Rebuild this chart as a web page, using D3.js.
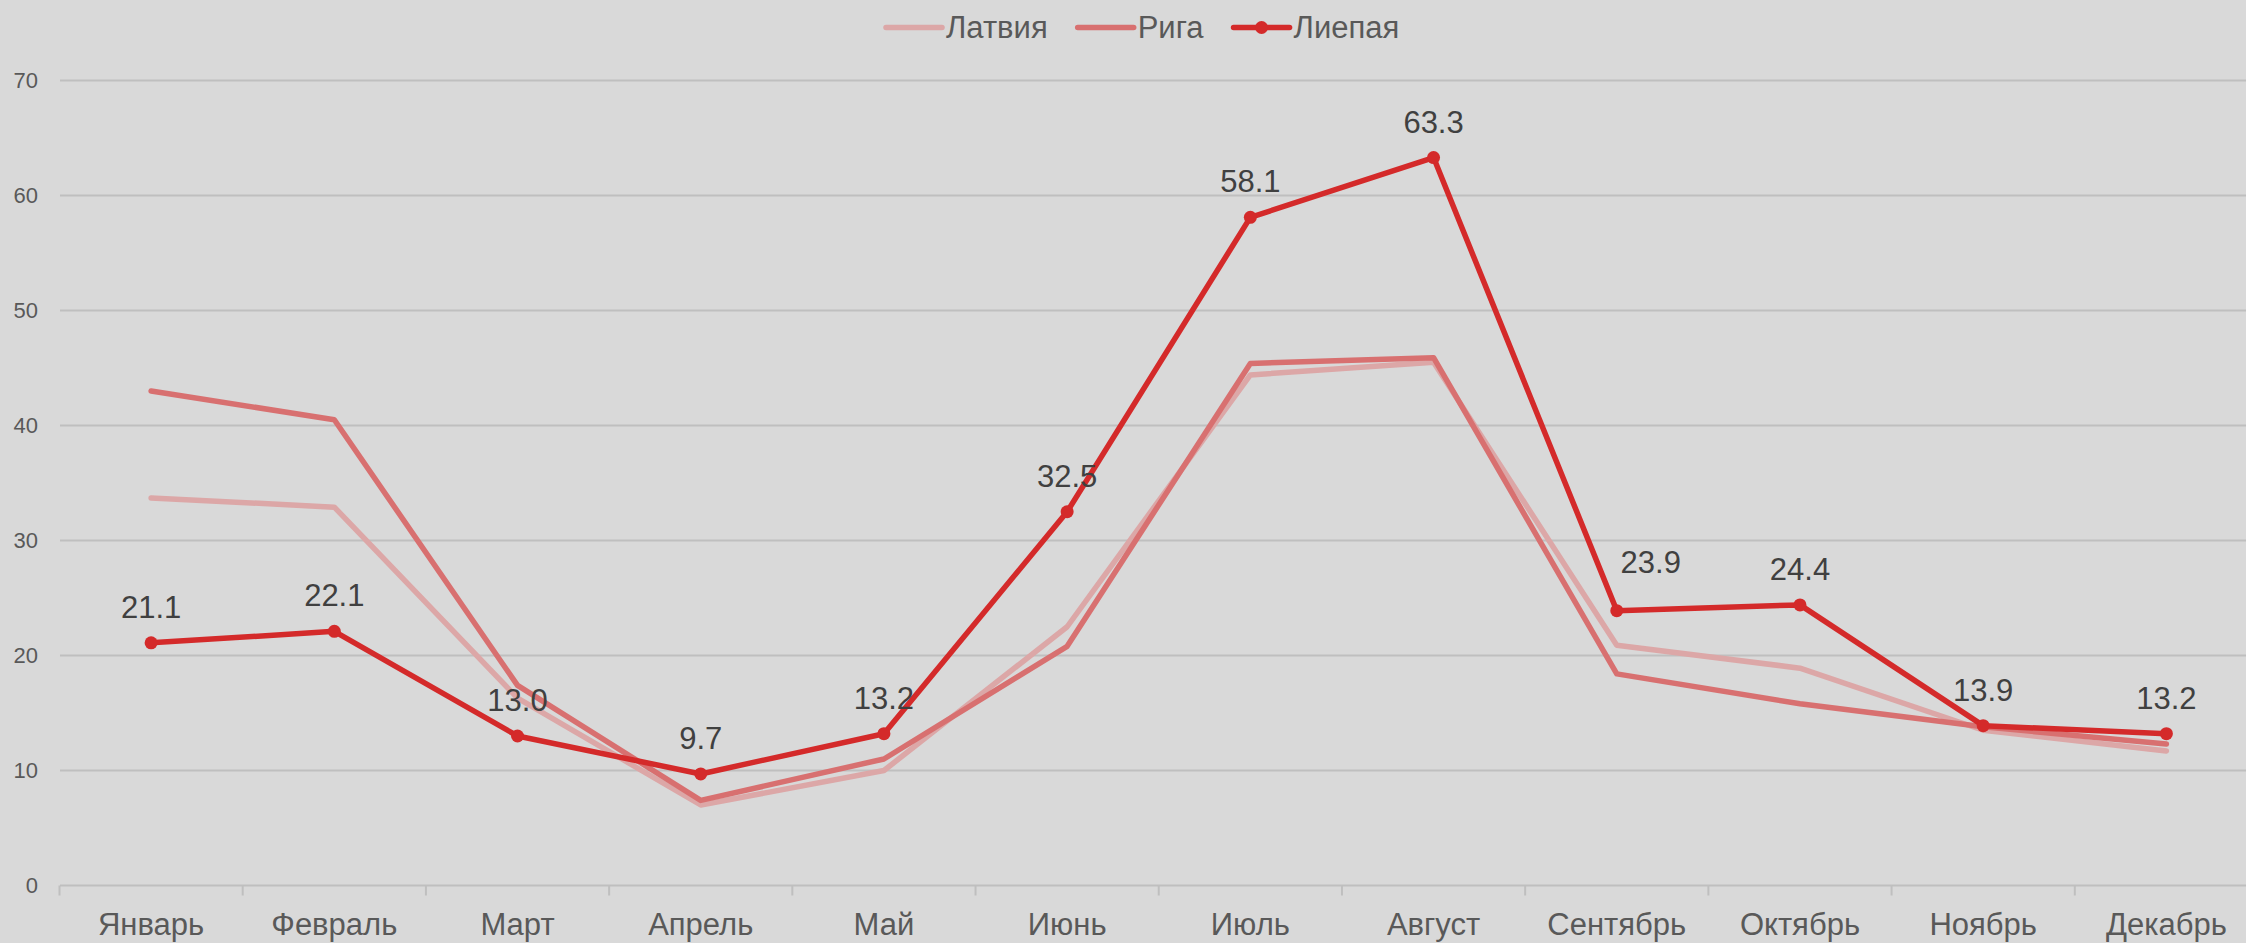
<!DOCTYPE html>
<html>
<head>
<meta charset="utf-8">
<script src="https://cdn.jsdelivr.net/npm/d3@7"></script>
<style>
  html, body { margin: 0; padding: 0; background: #d9d9d9; }
  svg { display: block; font-family: "Liberation Sans", Arial, sans-serif; }
</style>
</head>
<body>
<div id="chart"></div>
<script>
// monthly values
var months = ['Январь', 'Февраль', 'Март', 'Апрель', 'Май', 'Июнь',
    'Июль', 'Август', 'Сентябрь', 'Октябрь', 'Ноябрь', 'Декабрь'];

var latvia = [33.7, 32.9, 16.3, 7.0, 10.0, 22.5, 44.4, 45.5, 20.9, 18.9, 13.5, 11.7];
var riga = [43.0, 40.5, 17.4, 7.4, 11.0, 20.8, 45.4, 45.9, 18.4, 15.8, 13.8, 12.3];
var liepaja = [21.1, 22.1, 13.0, 9.7, 13.2, 32.5, 58.1, 63.3, 23.9, 24.4, 13.9, 13.2];

var yTicks = [0, 10, 20, 30, 40, 50, 60, 70];

var series = [
    { name: 'Латвия', values: latvia, color: '#dca7a7', dots: false },
    { name: 'Рига', values: riga, color: '#d87070', dots: false },
    { name: 'Лиепая', values: liepaja, color: '#d42a2a', dots: true }
];

var width = 2246,
    height = 943;

var svg = d3.select('#chart').append('svg')
    .attr('width', width)
    .attr('height', height);

svg.append('rect')
    .attr('width', width)
    .attr('height', height)
    .attr('fill', '#d9d9d9');

// band scale runs a little past the right edge, like the original
var x = d3.scaleBand()
    .domain(months)
    .range([59.5, 2258])
    .paddingInner(0)
    .paddingOuter(0);

var y = d3.scaleLinear()
    .domain([0, 70])
    .range([885.5, 80.5]);

function cx(i){ return x(months[i]) + x.bandwidth() / 2; }

// gridlines
svg.append('g')
    .selectAll('line')
    .data(yTicks.filter(function(d){ return d > 0; }))
    .enter()
    .append('line')
        .attr('x1', 60)
        .attr('x2', width)
        .attr('y1', function(d){ return y(d); })
        .attr('y2', function(d){ return y(d); })
        .attr('stroke', '#bfbfbf')
        .attr('stroke-width', 2);

// y tick labels
svg.append('g')
    .selectAll('text')
    .data(yTicks)
    .enter()
    .append('text')
        .attr('x', 38)
        .attr('y', function(d){ return y(d); })
        .attr('dy', '0.35em')
        .attr('text-anchor', 'end')
        .attr('fill', '#595959')
        .style('font-size', '22px')
        .text(function(d){ return d; });

// x axis: base line, ticks between categories, labels
var xAxis = svg.append('g');

xAxis.append('line')
    .attr('x1', 60)
    .attr('x2', width)
    .attr('y1', y(0))
    .attr('y2', y(0))
    .attr('stroke', '#bfbfbf')
    .attr('stroke-width', 2);

xAxis.selectAll('line.tick')
    .data(months)
    .enter()
    .append('line')
        .attr('class', 'tick')
        .attr('x1', function(d){ return x(d); })
        .attr('x2', function(d){ return x(d); })
        .attr('y1', y(0))
        .attr('y2', y(0) + 10)
        .attr('stroke', '#bfbfbf')
        .attr('stroke-width', 2);

xAxis.selectAll('text')
    .data(months)
    .enter()
    .append('text')
        .attr('x', function(d){ return x(d) + x.bandwidth() / 2; })
        .attr('y', 935)
        .attr('text-anchor', 'middle')
        .attr('fill', '#595959')
        .style('font-size', '31px')
        .text(function(d){ return d; });

// lines
var line = d3.line()
    .x(function(d, i){ return cx(i); })
    .y(function(d){ return y(d); });

var lines = svg.append('g');

series.forEach(function(s){
    lines.append('path')
        .datum(s.values)
        .attr('d', line)
        .attr('fill', 'none')
        .attr('stroke', s.color)
        .attr('stroke-width', 5.5)
        .attr('stroke-linejoin', 'round')
        .attr('stroke-linecap', 'round');

    if (s.dots) {
        lines.selectAll(null)
            .data(s.values)
            .enter()
            .append('circle')
                .attr('cx', function(d, i){ return cx(i); })
                .attr('cy', function(d){ return y(d); })
                .attr('r', 6.5)
                .attr('fill', s.color);

        // september label sits up and to the right in the original
        lines.selectAll(null)
            .data(s.values)
            .enter()
            .append('text')
                .attr('x', function(d, i){ return cx(i) + (i === 8 ? 34 : 0); })
                .attr('y', function(d, i){ return y(d) - (i === 8 ? 38 : 25); })
                .attr('text-anchor', 'middle')
                .attr('fill', '#404040')
                .style('font-size', '31px')
                .text(function(d){ return d.toFixed(1); });
    }
});

// legend
var legend = svg.append('g');
var lx = 886;

series.forEach(function(s){
    var item = legend.append('g').attr('transform', 'translate(' + lx + ',27.5)');
    item.append('line')
        .attr('x1', 0)
        .attr('x2', 56)
        .attr('stroke', s.color)
        .attr('stroke-width', 5.5)
        .attr('stroke-linecap', 'round');
    if (s.dots) {
        item.append('circle')
            .attr('cx', 28)
            .attr('r', 6.5)
            .attr('fill', s.color);
    }
    var t = item.append('text')
        .attr('x', 60)
        .attr('dy', '0.35em')
        .attr('fill', '#595959')
        .style('font-size', '31px')
        .text(s.name);
    lx += 60 + t.node().getComputedTextLength() + 30;
});
</script>
</body>
</html>
